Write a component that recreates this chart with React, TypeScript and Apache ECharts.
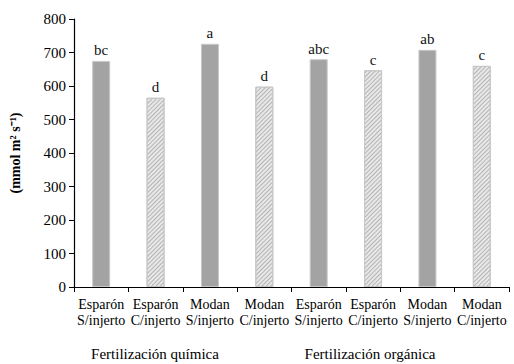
import React, { useEffect, useRef } from "react";
import * as echarts from "echarts";

const categories = [
  "Esparón\nS/injerto",
  "Esparón\nC/injerto",
  "Modan\nS/injerto",
  "Modan\nC/injerto",
  "Esparón\nS/injerto",
  "Esparón\nC/injerto",
  "Modan\nS/injerto",
  "Modan\nC/injerto",
];
const values = [675, 565, 726, 598, 680, 647, 708, 660];
const letters = ["bc", "d", "a", "d", "abc", "c", "ab", "c"];
const hatched = [false, true, false, true, false, true, false, true];
const groupLabels = ["Fertilización química", "Fertilización orgánica"];
const yAxisName = "(mmol m² s⁻¹)";

const FONT = "Times New Roman, Liberation Serif, serif";

export default function App() {
  const ref = useRef<HTMLDivElement>(null);
  useEffect(() => {
    if (!ref.current) return;
    const chart = echarts.init(ref.current, undefined, { renderer: "svg" });
    const data = values.map((v, i) => ({
      value: v,
      itemStyle: hatched[i]
        ? {
            color: "#e8e8e8",
            borderColor: "#c8c8c8",
            borderWidth: 1,
            decal: {
              symbol: "rect",
              dashArrayX: [1, 0],
              dashArrayY: [1, 2],
              rotation: -Math.PI / 4,
              color: "#b4b4b4",
              symbolSize: 1,
            },
          }
        : { color: "#a3a3a3", borderColor: "#c8c8c8", borderWidth: 1 },
      label: { formatter: letters[i] },
    }));
    chart.setOption({
      animation: false,
      textStyle: { fontFamily: FONT },
      grid: { left: 71, right: 5, top: 19, bottom: 77 },
      xAxis: {
        type: "category",
        data: categories,
        boundaryGap: true,
        axisLine: { lineStyle: { color: "#000", width: 1.2 } },
        axisTick: { show: true, length: 5, lineStyle: { color: "#000" } },
        axisLabel: {
          color: "#000",
          fontFamily: FONT,
          fontSize: 14,
          lineHeight: 16,
          margin: 9,
          interval: 0,
        },
      },
      yAxis: {
        type: "value",
        min: 0,
        max: 800,
        interval: 100,
        name: yAxisName,
        nameLocation: "middle",
        nameRotate: 90,
        nameGap: 52,
        nameTextStyle: { fontFamily: FONT, fontSize: 14, fontWeight: "bold", color: "#000" },
        axisLine: { show: true, lineStyle: { color: "#000", width: 1.2 } },
        axisTick: { show: true, length: 5, lineStyle: { color: "#000" } },
        splitLine: { show: false },
        axisLabel: { color: "#000", fontFamily: FONT, fontSize: 15, margin: 8 },
      },
      series: [
        {
          type: "bar",
          data,
          barWidth: 18,
          label: {
            show: true,
            position: "top",
            distance: 3,
            color: "#111",
            fontFamily: FONT,
            fontSize: 15,
          },
        },
      ],
      graphic: [
        {
          type: "text",
          x: 155,
          y: 354,
          style: {
            text: groupLabels[0],
            fontFamily: FONT,
            fontSize: 15,
            fill: "#000",
            align: "center",
            verticalAlign: "middle",
          },
        },
        {
          type: "text",
          x: 370,
          y: 354,
          style: {
            text: groupLabels[1],
            fontFamily: FONT,
            fontSize: 15,
            fill: "#000",
            align: "center",
            verticalAlign: "middle",
          },
        },
      ],
    });
    return () => chart.dispose();
  }, []);
  return (
    <div
      ref={ref}
      style={{ position: "fixed", left: 0, top: 0, width: 514, height: 364, background: "#fff" }}
    />
  );
}
